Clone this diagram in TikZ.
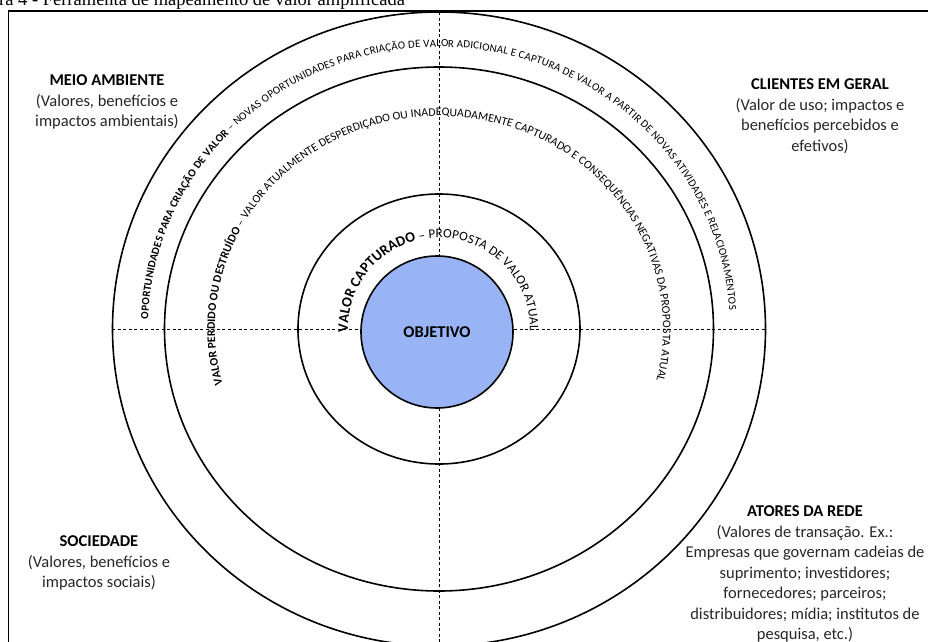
\documentclass[tikz,border=0pt]{standalone}
\usepackage{fontspec}
\setmainfont{Carlito}
\newfontfamily\legendafont{Liberation Serif}
\usetikzlibrary{decorations.text}
\definecolor{azulobj}{RGB}{152,180,245}

\begin{document}
\begin{tikzpicture}[x=1pt,y=1pt,
  anel/.style={draw,line width=1.6pt},
  eixo/.style={draw,line width=0.8pt,dash pattern=on 3pt off 2.5pt},
  rotulo/.style={align=center,inner sep=0pt,text=black!85,
    font=\fontsize{16.5}{20.5}\selectfont}]
\useasboundingbox (-439,-312) rectangle (489,329);
\clip (-439,-312) rectangle (489,329);

% legenda cortada e moldura
\node[anchor=base west,inner sep=0pt,font=\legendafont\fontsize{18.5}{18.5}\selectfont]
  (legenda) at (-440,323.5) {ra 4 - Ferramenta de mapeamento de valor amplificada};
\draw[line width=1.5pt] (-430.5,318) rectangle (520,-340);

% eixos
\coordinate (cima) at (0,317);
\coordinate (baixo) at (0,-317);
\coordinate (esq) at (-326.5,0);
\coordinate (dir) at (326.5,0);
\path[eixo] (cima) -- (baixo);
\path[eixo] (esq) -- (dir);

% aneis
\path[anel] (0,0) ellipse [x radius=326.5,y radius=317];
\path[anel] (0,0) ellipse [x radius=274.5,y radius=262];
\path[anel] (0,0) ellipse [x radius=141,y radius=135];
\node[circle,draw,line width=1.6pt,fill=azulobj,minimum size=152pt,inner sep=0pt,
  font=\bfseries\fontsize{16.5}{16.5}\selectfont] (objetivo) at (-2,-3) {OBJETIVO};

% textos nos aneis
\path[decorate,decoration={text along path,text align=fit to path,
  text={|\fontsize{11}{11}\selectfont\bfseries|OPORTUNIDADES PARA CRIAÇÃO DE VALOR|\fontsize{11}{11}\selectfont| – NOVAS OPORTUNIDADES PARA CRIAÇÃO DE VALOR ADICIONAL E CAPTURA DE VALOR A PARTIR DE NOVAS ATIVIDADES E RELACIONAMENTOS}}]
  (178:291 and 282) arc [start angle=178,end angle=4,x radius=291,y radius=282];
\path[decorate,decoration={text along path,text align=fit to path,
  text={|\fontsize{11.7}{11.7}\selectfont\bfseries|VALOR PERDIDO OU DESTRUÍDO|\fontsize{11.7}{11.7}\selectfont| – VALOR ATUALMENTE DESPERDIÇADO OU INADEQUADAMENTE CAPTURADO E CONSEQUÊNCIAS NEGATIVAS DA PROPOSTA ATUAL}}]
  (195:224 and 213) arc [start angle=195,end angle=-14,x radius=224,y radius=213];
\path[decorate,decoration={text along path,text align=fit to path,
  text={|\fontsize{14.5}{14.5}\selectfont\bfseries|VALOR CAPTURADO|\fontsize{13}{13}\selectfont| – PROPOSTA DE VALOR ATUAL}}]
  (182:91) arc [start angle=182,end angle=-1,radius=91];

% partes interessadas
\node[rotulo] (meio) at (-332,227) {\textcolor{black}{\textbf{MEIO AMBIENTE}}\\(Valores, benefícios e\\impactos ambientais)};
\node[rotulo] (clientes) at (381,213) {\textcolor{black}{\textbf{CLIENTES EM GERAL}}\\(Valor de uso; impactos e\\benefícios percebidos e\\efetivos)};
\node[rotulo] (sociedade) at (-340,-234) {\textcolor{black}{\textbf{SOCIEDADE}}\\(Valores, benefícios e\\impactos sociais)};
\node[rotulo] (atores) at (366,-245) {\textcolor{black}{\textbf{ATORES DA REDE}}\\(Valores de transação. Ex.:\\Empresas que governam cadeias de\\suprimento; investidores;\\fornecedores; parceiros;\\distribuidores; mídia; institutos de\\pesquisa, etc.)};
\end{tikzpicture}
\end{document}
